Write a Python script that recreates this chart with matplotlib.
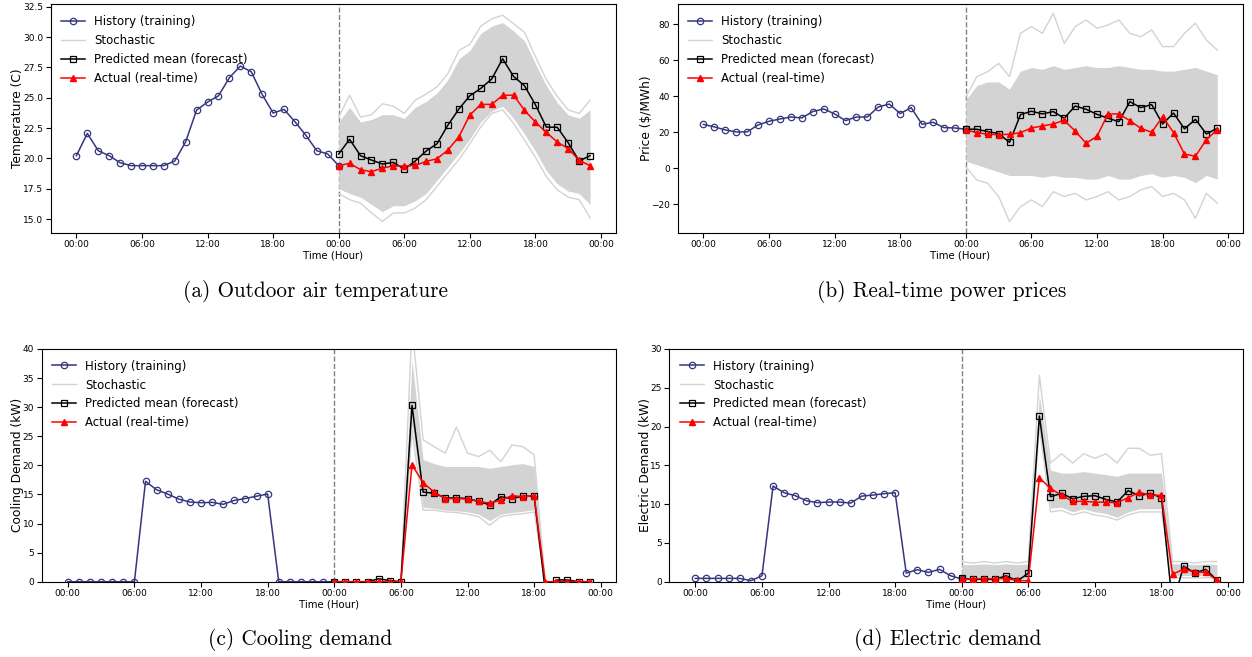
import numpy as np
import matplotlib.pyplot as plt

tick_pos = [0, 6, 12, 18, 24, 30, 36, 42, 48]
tick_labels = ['00:00', '06:00', '12:00', '18:00', '00:00', '06:00', '12:00', '18:00', '00:00']
hist_hours = np.arange(0, 25)
fcst_hours = np.arange(24, 48)

# (a) outdoor air temperature
temp_hist = [20.22, 22.06, 20.63, 20.22, 19.64, 19.4, 19.4, 19.4, 19.4, 19.78, 21.37, 23.98, 24.64,
             25.16, 26.65, 27.61, 27.14, 25.27, 23.74, 24.04, 23.02, 21.9, 20.63, 20.36, 19.4]
temp_mean = [20.36, 21.57, 20.22, 19.86, 19.53, 19.67, 19.12, 19.78, 20.6, 21.21, 22.75, 24.07,
             25.16, 25.77, 26.54, 28.21, 26.76, 25.99, 24.42, 22.58, 22.56, 21.29, 19.78, 20.22]
temp_actual = [19.4, 19.59, 19.07, 18.9, 19.2, 19.37, 19.37, 19.42, 19.75, 19.97, 20.69, 21.79,
               23.57, 24.45, 24.45, 25.19, 25.22, 23.96, 23.0, 22.14, 21.35, 20.8, 19.84, 19.4]
temp_max = [23.4, 25.2, 23.4, 23.6, 24.5, 24.3, 23.7, 24.8, 25.3, 25.9, 27.0, 28.9,
            29.4, 30.9, 31.5, 31.8, 31.1, 30.4, 28.4, 26.5, 25.1, 24.0, 23.7, 24.8]
temp_hi = [23.0, 24.2, 23.0, 23.2, 23.6, 23.6, 23.3, 24.2, 24.7, 25.4, 26.5, 28.2,
           28.9, 30.3, 30.9, 31.2, 30.5, 29.7, 27.8, 26.0, 24.6, 23.6, 23.3, 24.0]
temp_lo = [17.5, 17.1, 16.8, 16.2, 15.6, 16.1, 16.1, 16.5, 17.1, 18.2, 19.3, 20.4,
           21.6, 23.0, 23.9, 24.3, 23.3, 22.0, 20.6, 19.0, 17.9, 17.3, 17.1, 16.2]
temp_min = [17.1, 16.6, 16.3, 15.5, 14.8, 15.5, 15.5, 15.9, 16.6, 17.7, 18.8, 19.9,
            21.2, 22.6, 23.7, 24.0, 22.9, 21.5, 20.1, 18.5, 17.4, 16.8, 16.6, 15.1]

# (b) real-time power prices
price_hist = [24.4, 23.0, 21.3, 20.2, 20.2, 24.1, 26.1, 27.4, 28.5, 28.0, 31.5, 33.0, 30.2,
              26.5, 28.5, 28.5, 34.1, 35.7, 30.4, 33.7, 24.4, 25.6, 22.6, 22.4, 21.7]
price_mean = [21.7, 21.7, 20.4, 19.3, 14.4, 29.8, 31.7, 30.2, 31.5, 27.8, 34.6, 32.8,
              30.0, 27.8, 25.9, 37.0, 33.7, 35.4, 24.6, 30.7, 21.9, 27.2, 19.1, 22.2]
price_actual = [21.3, 19.8, 18.9, 18.7, 18.9, 19.8, 22.4, 23.5, 24.6, 26.7, 20.7, 13.9,
                17.8, 30.2, 30.2, 26.5, 22.2, 20.0, 28.7, 19.8, 7.9, 6.7, 15.9, 21.5]
price_max = [39.6, 50.9, 53.7, 58.3, 50.9, 75, 78.7, 75, 86.1, 69.4, 78.7, 82.4,
             77.8, 79.6, 82.4, 75, 73.1, 76.9, 67.6, 67.6, 75, 80.6, 71.3, 65.7]
price_hi = [38, 46, 48, 48, 44, 54, 56, 55, 57, 55, 56, 57,
            56, 56, 57, 56, 55, 55, 54, 54, 55, 56, 54, 52]
price_lo = [4, 2, 0, -2, -4, -4, -4, -5, -4, -5, -5, -6,
            -6, -4, -6, -6, -4, -3, -5, -4, -5, -8, -4, -6]
price_min = [0.9, -6.5, -8.3, -15.7, -29.6, -21.3, -17.6, -21.3, -13, -15.7, -13.9, -17.6,
             -15.7, -13, -17.6, -15.7, -12, -10.2, -15.7, -13.9, -17.6, -27.8, -13.9, -19.4]

# (c) cooling demand
cool_hist = [0, 0, 0, 0, 0, 0, 0, 17.25, 15.8, 15.07, 14.2, 13.7, 13.58, 13.64, 13.3,
             13.98, 14.3, 14.7, 15.07, 0, 0, 0, 0, 0, 0]
cool_mean = [0, 0, 0, 0, 0.5, 0.2, 0, 30.3, 15.4, 15.2, 14.4, 14.4,
             14.3, 13.8, 13.2, 14.6, 14.3, 14.7, 14.7, -1.5, 0.3, 0.3, 0, 0]
cool_actual = [0, 0, 0, 0, 0, 0, 0, 20.1, 17.0, 15.4, 14.3, 14.3,
               14.2, 13.8, 13.5, 14.0, 14.8, 14.6, 14.8, 0, 0, 0, 0, 0]
cool_max = [0, 0, 0, 0, 0, 0, 0, 44, 24.4, 23.2, 22.1, 26.6,
            22.1, 21.5, 22.6, 20.6, 23.5, 23.2, 21.8, 0, 0, 0, 0, 0]
cool_hi = [0, 0, 0, 0, 0, 0, 0, 38, 21.0, 20.3, 19.8, 19.8,
           19.8, 19.8, 19.5, 19.8, 20.1, 20.3, 19.8, 0, 0, 0, 0, 0]
cool_lo = [0, 0, 0, 0, 0, 0, 0, 27, 12.8, 12.6, 12.3, 12.2,
           12.0, 11.6, 10.5, 11.6, 11.9, 12.1, 12.4, 0, 0, 0, 0, 0]
cool_min = [0, 0, 0, 0, 0, 0, 0, 26, 12.3, 12.3, 12.0, 11.9,
            11.6, 11.2, 9.7, 11.2, 11.5, 11.7, 12.0, 0, 0, 0, 0, 0]

# (d) electric demand
elec_hist = [0.43, 0.43, 0.43, 0.43, 0.43, 0.13, 0.77, 12.33, 11.47, 11.09, 10.44, 10.19, 10.27,
             10.27, 10.14, 11.04, 11.17, 11.35, 11.47, 1.12, 1.55, 1.2, 1.59, 0.77, 0.34]
elec_mean = [0.43, 0.34, 0.3, 0.3, 0.77, 0.1, 1.07, 21.36, 10.96, 11.39, 10.7, 11.0,
             11.09, 10.61, 10.27, 11.73, 11.09, 11.39, 10.83, -3.0, 2.02, 1.12, 1.59, 0.2]
elec_actual = [0.3, 0.39, 0.39, 0.39, 0.43, 0.17, 0.1, 13.4, 12.03, 11.13, 10.36, 10.36,
               10.27, 10.23, 10.19, 10.83, 11.52, 11.17, 11.13, 0.95, 1.63, 1.25, 1.2, 0.2]
elec_max = [2.6, 2.4, 2.6, 2.4, 2.6, 2.4, 2.6, 26.6, 15.3, 16.5, 15.3, 16.5,
            15.9, 16.5, 15.3, 17.2, 17.2, 16.3, 16.5, 2.6, 2.6, 2.4, 2.6, 2.6]
elec_hi = [2.2, 2.2, 2.3, 2.2, 2.3, 2.2, 2.3, 24.0, 14.4, 14.0, 14.0, 14.2,
           14.0, 13.8, 13.6, 14.0, 14.0, 14.0, 14.0, 2.3, 2.3, 2.2, 2.3, 2.2]
elec_lo = [0.4, 0.4, 0.4, 0.4, 0.4, 0.4, 0.4, 20.5, 9.5, 9.6, 9.0, 9.4,
           9.0, 8.8, 8.3, 9.0, 9.4, 9.4, 9.4, 0.8, 0.8, 0.8, 0.8, 0.8]
elec_min = [0.2, 0.2, 0.2, 0.2, 0.2, 0.2, 0.2, 20.0, 9.0, 9.2, 8.6, 9.0,
            8.6, 8.4, 7.95, 8.6, 9.0, 9.0, 9.0, 0.5, 0.5, 0.5, 0.5, 0.5]

hist_color = '#36367e'
grey = 'lightgrey'


def draw(ax, hist, mean, actual, smax, shi, slo, smin, ylabel, ylim):
    ax.fill_between(fcst_hours, slo, shi, color=grey, lw=0, zorder=1)
    ax.plot(fcst_hours, smax, color=grey, lw=1, zorder=1)
    ax.plot(fcst_hours, smin, color=grey, lw=1, zorder=1)
    ax.plot(hist_hours, hist, color=hist_color, lw=1.1, marker='o', ms=4.6,
            mfc='none', mew=0.9, zorder=2, label='History (training)')
    ax.plot([], [], color=grey, lw=1, label='Stochastic')
    ax.plot(fcst_hours, mean, color='k', lw=1.1, marker='s', ms=4.6,
            mfc='none', mew=0.9, zorder=3, label='Predicted mean (forecast)')
    ax.plot(fcst_hours, actual, color='r', lw=1.1, marker='^', ms=4.8,
            zorder=4, label='Actual (real-time)')
    ax.axvline(24, color='grey', ls='--', lw=1, zorder=0)
    ax.set_xlim(-2.35, 49.35)
    ax.set_ylim(ylim)
    ax.set_xticks(tick_pos)
    ax.set_xticklabels(tick_labels)
    ax.tick_params(labelsize=6.5, pad=2)
    ax.set_xlabel('Time (Hour)', fontsize=7.3, labelpad=1)
    ax.set_ylabel(ylabel, fontsize=8.8, labelpad=-1)
    ax.legend(loc='upper left', frameon=False, fontsize=8.5)


fig = plt.figure(figsize=(12.52, 6.57), dpi=100)
ax1 = fig.add_axes([0.0405, 0.6458, 0.4513, 0.3476])
ax2 = fig.add_axes([0.5413, 0.6458, 0.4515, 0.3476])
ax3 = fig.add_axes([0.0333, 0.1146, 0.4585, 0.3542])
ax4 = fig.add_axes([0.5346, 0.1146, 0.4582, 0.3542])

draw(ax1, temp_hist, temp_mean, temp_actual, temp_max, temp_hi, temp_lo, temp_min,
     'Temperature (C)', (13.87, 32.7))
draw(ax2, price_hist, price_mean, price_actual, price_max, price_hi, price_lo, price_min,
     r'Price (\$/MWh)', (-35.8, 91.1))
draw(ax3, cool_hist, cool_mean, cool_actual, cool_max, cool_hi, cool_lo, cool_min,
     'Cooling Demand (kW)', (0, 40))
draw(ax4, elec_hist, elec_mean, elec_actual, elec_max, elec_hi, elec_lo, elec_min,
     'Electric Demand (kW)', (0, 30))

cap = dict(fontsize=15.3, family='cmr10', ha='center', va='center')
fig.text(0.2516, 0.5556, '(a) Outdoor air temperature', **cap)
fig.text(0.752, 0.5556, '(b) Real-time power prices', **cap)
fig.text(0.2396, 0.0259, '(c) Cooling demand', **cap)
fig.text(0.757, 0.0259, '(d) Electric demand', **cap)

fig.savefig('out.png', dpi=100)
